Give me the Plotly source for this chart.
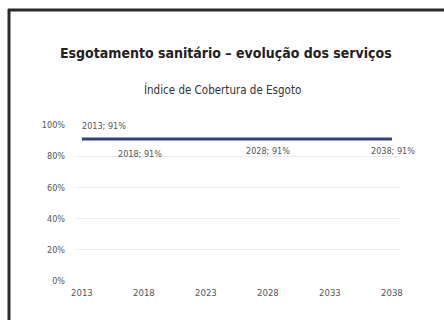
import plotly.graph_objects as go

years = [2013, 2018, 2023, 2028, 2033, 2038]
coverage = [91, 91, 91, 91, 91, 91]
point_labels = ["2013; 91%", "2018; 91%", "", "2028; 91%", "", "2038; 91%"]
x_ticks = [2013, 2018, 2023, 2028, 2033, 2038]
y_ticks = [0, 20, 40, 60, 80, 100]
y_tick_text = ["0%", "20%", "40%", "60%", "80%", "100%"]

title = "Esgotamento sanitário – evolução dos serviços"
subtitle = "Índice de Cobertura de Esgoto"

FONT = "DejaVu Sans Condensed, Liberation Sans Narrow, Arial Narrow, sans-serif"

fig = go.Figure()
fig.add_trace(go.Scatter(
    x=years, y=coverage, mode="lines",
    line=dict(color="#34407e", width=3),
    hoverinfo="skip", showlegend=False,
))

# label offsets (style only)
label_style = {
    "2013; 91%": dict(xanchor="left", xshift=-2, yshift=13),
    "2018; 91%": dict(xanchor="center", xshift=-4, yshift=-15),
    "2028; 91%": dict(xanchor="center", xshift=0, yshift=-12),
    "2038; 91%": dict(xanchor="center", xshift=1, yshift=-12),
}
for xv, yv, lab in zip(years, coverage, point_labels):
    if not lab:
        continue
    st = label_style[lab]
    fig.add_annotation(x=xv, y=yv, text=lab, showarrow=False,
                       xanchor=st["xanchor"], yanchor="middle",
                       xshift=st["xshift"], yshift=st["yshift"],
                       font=dict(family=FONT, size=9, color="#555"))

W, H = 444, 320
L, R, T, B = 75, 44, 125, 39
pw, ph = W - L - R, H - T - B

def px_x(p):
    return (p - L) / pw

def px_y(p):
    return (H - B - p) / ph

# slide frame: left and top edges (others fall outside the photo)
fig.add_shape(type="line", xref="paper", yref="paper",
              x0=px_x(9), x1=px_x(9), y0=px_y(340), y1=px_y(9),
              line=dict(color="#2a2a2a", width=3), layer="below")
fig.add_shape(type="line", xref="paper", yref="paper",
              x0=px_x(8), x1=px_x(460), y0=px_y(10), y1=px_y(10),
              line=dict(color="#2a2a2a", width=3), layer="below")

fig.add_annotation(text=f"<b>{title}</b>", xref="paper", yref="paper",
                   x=px_x(226), y=px_y(53), showarrow=False,
                   xanchor="center", yanchor="middle",
                   font=dict(family=FONT, size=14, color="#222"))
fig.add_annotation(text=subtitle, xref="paper", yref="paper",
                   x=px_x(222), y=px_y(90), showarrow=False,
                   xanchor="center", yanchor="middle",
                   font=dict(family=FONT, size=11.5, color="#333"))

fig.update_layout(
    width=W, height=H,
    margin=dict(l=L, r=R, t=T, b=B),
    paper_bgcolor="white", plot_bgcolor="white",
    font=dict(family=FONT, size=9, color="#555"),
    xaxis=dict(range=[2012.44, 2038.65], tickvals=x_ticks, showgrid=False,
               zeroline=False, showline=False, ticks="", ticklen=0,
               ticklabelstandoff=4, tickfont=dict(size=9.5)),
    yaxis=dict(range=[0, 100], tickvals=y_ticks, ticktext=y_tick_text,
               showgrid=True, gridcolor="#ececec", gridwidth=1,
               zeroline=False, showline=False, ticks="", ticklabelstandoff=9,
               tickfont=dict(size=9)),
)

fig.write_html("out.html", config={"displayModeBar": False},
               post_script="document.body.style.margin='0';"
                           "document.body.style.overflow='hidden';"
                           "document.documentElement.style.overflow='hidden';")
